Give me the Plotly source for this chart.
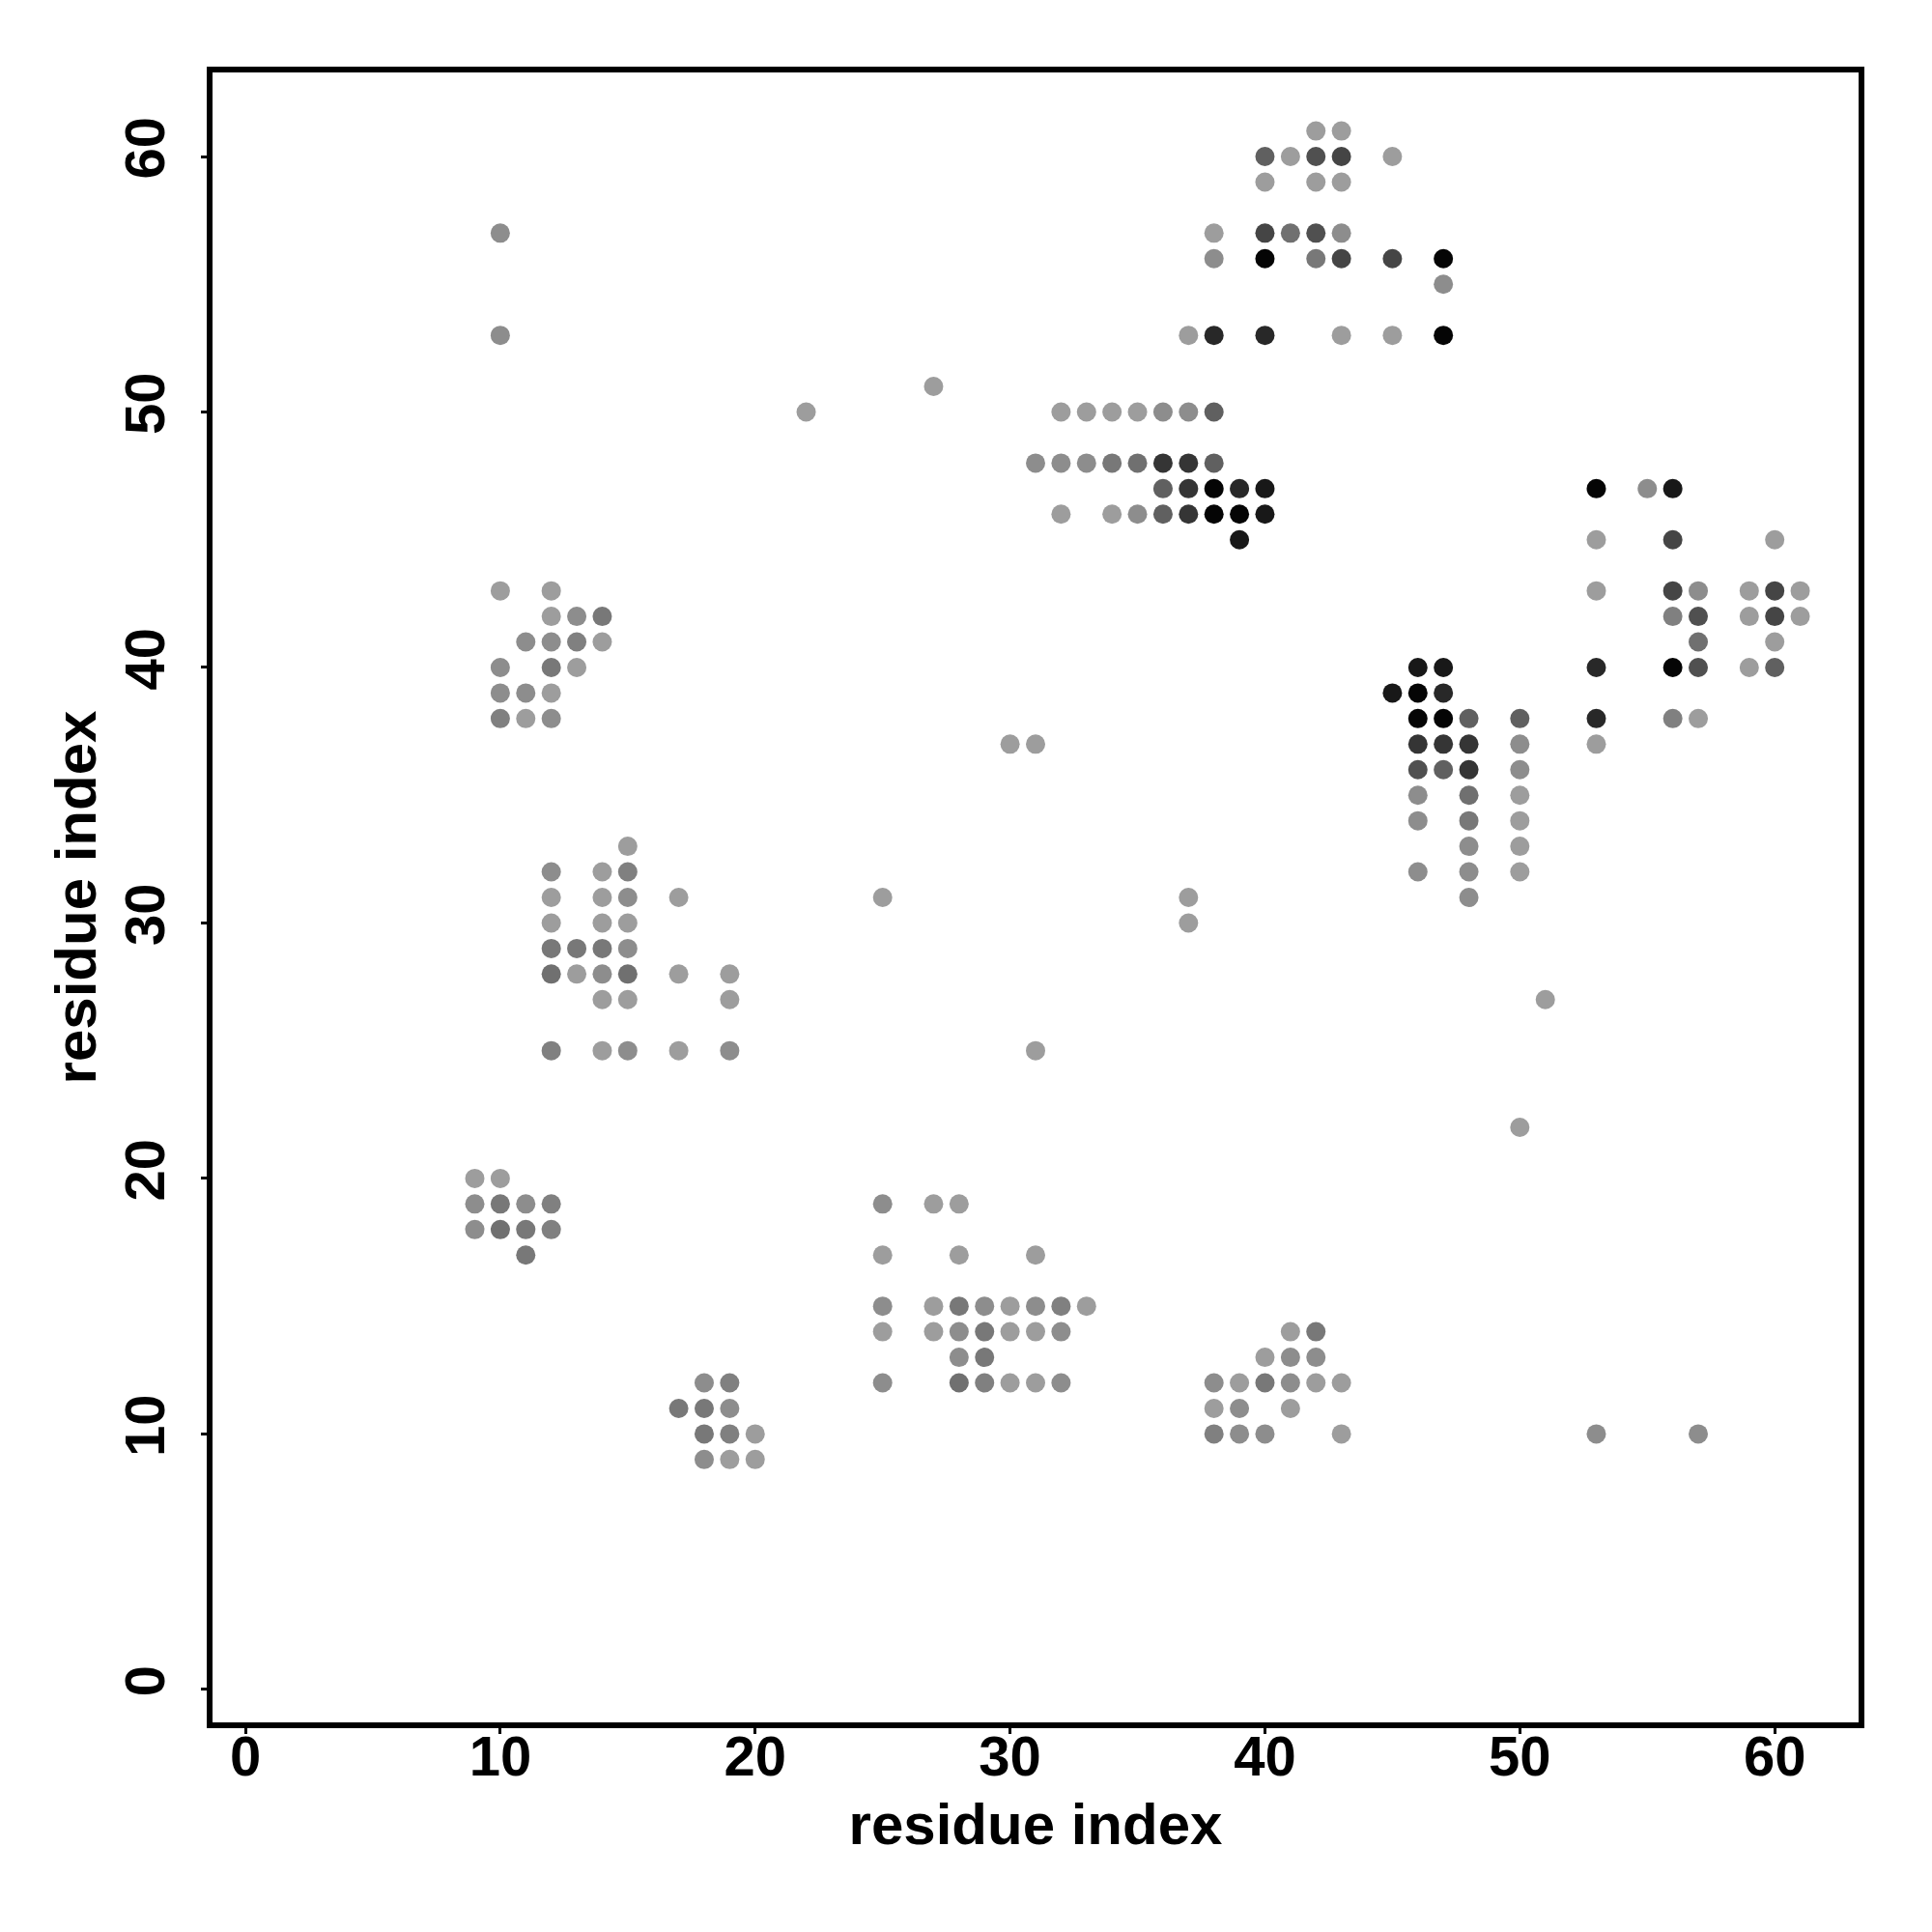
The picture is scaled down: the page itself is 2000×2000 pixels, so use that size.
import plotly.graph_objects as go

# contact map: residue i (x), residue j (y), contact strength (0 = weak/light grey, 1 = strong/black)
res_i = [
    42, 43,
    40, 41, 42, 43, 45,
    40, 42, 43,
    10, 38, 40, 41, 42, 43,
    38, 40, 42, 43, 45, 47,
    47,
    10, 37, 38, 40, 43, 45, 47,
    27,
    22, 32, 33, 34, 35, 36, 37, 38,
    31, 32, 33, 34, 35, 36, 37, 38,
    36, 37, 38, 39, 40, 53, 55, 56,
    32, 34, 35, 36, 37, 38, 39, 40,
    39, 53, 56, 60,
    10, 12, 53, 56, 57, 59, 60, 61,
    12, 13, 14, 56, 57, 59, 60, 61,
    11, 12, 13, 14, 57, 60,
    10, 12, 13, 46, 47, 53, 56, 57, 59, 60,
    10, 11, 12, 45, 46, 47,
    10, 11, 12, 46, 47, 48, 50, 53, 56, 57,
    30, 31, 46, 47, 48, 50, 53,
    46, 47, 48, 50,
    46, 48, 50,
    46, 48, 50,
    15, 48, 50,
    12, 14, 15, 46, 48, 50,
    12, 14, 15, 17, 25, 37, 48,
    12, 14, 15, 37,
    12, 13, 14, 15,
    12, 13, 14, 15, 17, 19,
    14, 15, 19, 51,
    12, 14, 15, 17, 19, 31,
    50,
    9, 10,
    9, 10, 11, 12, 25, 27, 28,
    9, 10, 11, 12,
    11, 25, 28, 31,
    25, 27, 28, 29, 30, 31, 32, 33,
    25, 27, 28, 29, 30, 31, 32, 41, 42,
    28, 29, 40, 41, 42,
    18, 19, 25, 28, 29, 30, 31, 32, 38, 39, 40, 41, 42, 43,
    17, 18, 19, 38, 39, 41,
    18, 19, 20, 38, 39, 40, 43, 53, 57,
    18, 19, 20,
]

res_j = [
    61, 61,
    60, 60, 60, 60, 60,
    59, 59, 59,
    57, 57, 57, 57, 57, 57,
    56, 56, 56, 56, 56, 56,
    55,
    53, 53, 53, 53, 53, 53, 53,
    51,
    50, 50, 50, 50, 50, 50, 50, 50,
    48, 48, 48, 48, 48, 48, 48, 48,
    47, 47, 47, 47, 47, 47, 47, 47,
    46, 46, 46, 46, 46, 46, 46, 46,
    45, 45, 45, 45,
    43, 43, 43, 43, 43, 43, 43, 43,
    42, 42, 42, 42, 42, 42, 42, 42,
    41, 41, 41, 41, 41, 41,
    40, 40, 40, 40, 40, 40, 40, 40, 40, 40,
    39, 39, 39, 39, 39, 39,
    38, 38, 38, 38, 38, 38, 38, 38, 38, 38,
    37, 37, 37, 37, 37, 37, 37,
    36, 36, 36, 36,
    35, 35, 35,
    34, 34, 34,
    33, 33, 33,
    32, 32, 32, 32, 32, 32,
    31, 31, 31, 31, 31, 31, 31,
    30, 30, 30, 30,
    29, 29, 29, 29,
    28, 28, 28, 28, 28, 28,
    27, 27, 27, 27,
    25, 25, 25, 25, 25, 25,
    22,
    20, 20,
    19, 19, 19, 19, 19, 19, 19,
    18, 18, 18, 18,
    17, 17, 17, 17,
    15, 15, 15, 15, 15, 15, 15, 15,
    14, 14, 14, 14, 14, 14, 14, 14, 14,
    13, 13, 13, 13, 13,
    12, 12, 12, 12, 12, 12, 12, 12, 12, 12, 12, 12, 12, 12,
    11, 11, 11, 11, 11, 11,
    10, 10, 10, 10, 10, 10, 10, 10, 10,
    9, 9, 9,
]

strength = [
    0.02, 0.02,
    0.40, 0.02, 0.50, 0.57, 0.02,
    0.02, 0.02, 0.02,
    0.12, 0.02, 0.57, 0.30, 0.50, 0.12,
    0.12, 0.97, 0.25, 0.57, 0.57, 0.97,
    0.12,
    0.12, 0.02, 0.75, 0.75, 0.02, 0.02, 0.97,
    0.02,
    0.02, 0.02, 0.02, 0.02, 0.02, 0.12, 0.12, 0.40,
    0.12, 0.12, 0.12, 0.25, 0.30, 0.67, 0.67, 0.40,
    0.40, 0.67, 0.97, 0.75, 0.85, 0.97, 0.12, 0.85,
    0.02, 0.02, 0.12, 0.40, 0.67, 0.97, 0.97, 0.85,
    0.85, 0.02, 0.57, 0.02,
    0.02, 0.02, 0.02, 0.57, 0.12, 0.02, 0.57, 0.02,
    0.02, 0.12, 0.25, 0.20, 0.50, 0.02, 0.57, 0.02,
    0.12, 0.12, 0.20, 0.02, 0.30, 0.02,
    0.12, 0.25, 0.02, 0.85, 0.85, 0.75, 0.97, 0.50, 0.02, 0.40,
    0.12, 0.12, 0.02, 0.85, 0.97, 0.75,
    0.20, 0.02, 0.12, 0.97, 0.97, 0.40, 0.40, 0.75, 0.20, 0.02,
    0.02, 0.02, 0.67, 0.67, 0.67, 0.12, 0.02,
    0.50, 0.40, 0.67, 0.12,
    0.12, 0.30, 0.02,
    0.12, 0.25, 0.02,
    0.02, 0.12, 0.02,
    0.12, 0.02, 0.20, 0.12, 0.12, 0.02,
    0.02, 0.02, 0.12, 0.02, 0.02, 0.02, 0.12,
    0.02, 0.02, 0.02, 0.02,
    0.25, 0.25, 0.25, 0.12,
    0.30, 0.02, 0.12, 0.30, 0.02, 0.02,
    0.02, 0.02, 0.02, 0.02,
    0.20, 0.02, 0.12, 0.02, 0.12, 0.02,
    0.02,
    0.02, 0.02,
    0.12, 0.25, 0.12, 0.20, 0.12, 0.02, 0.02,
    0.12, 0.30, 0.25, 0.20,
    0.25, 0.02, 0.02, 0.02,
    0.12, 0.02, 0.25, 0.12, 0.02, 0.12, 0.20, 0.02,
    0.02, 0.02, 0.12, 0.25, 0.02, 0.02, 0.12, 0.02, 0.25,
    0.12, 0.25, 0.02, 0.12, 0.12,
    0.12, 0.20, 0.12, 0.30, 0.20, 0.02, 0.02, 0.12, 0.12, 0.02, 0.25, 0.12, 0.02, 0.02,
    0.25, 0.25, 0.12, 0.02, 0.12, 0.02,
    0.25, 0.20, 0.02, 0.20, 0.12, 0.12, 0.02, 0.12, 0.12,
    0.12, 0.02, 0.02,
]

tick_vals = [0, 10, 20, 30, 40, 50, 60]
axis_label = "residue index"

FONT = "Liberation Sans, Arial, Helvetica, sans-serif"

fig = go.Figure(
    go.Scatter(
        x=res_i,
        y=res_j,
        mode="markers",
        marker=dict(
            size=20,
            color=strength,
            cmin=0,
            cmax=1,
            colorscale=[[0, "rgb(160,160,160)"], [1, "rgb(0,0,0)"]],
            showscale=False,
            line=dict(width=0),
        ),
        hoverinfo="x+y",
    )
)

axis_common = dict(
    tickvals=tick_vals,
    ticks="outside",
    ticklen=6,
    tickwidth=3,
    tickcolor="black",
    showline=True,
    linewidth=6,
    linecolor="black",
    mirror=True,
    showgrid=False,
    zeroline=False,
    range=[-1.29, 63.29],
    tickfont=dict(family=FONT, size=58, color="black", weight="bold"),
    title=dict(text=axis_label, font=dict(family=FONT, size=60, color="black", weight="bold")),
)

fig.update_layout(
    width=2000,
    height=2000,
    margin=dict(l=212, r=84, t=67, b=225),
    paper_bgcolor="white",
    plot_bgcolor="white",
    showlegend=False,
    xaxis=dict(axis_common, ticklabelstandoff=-27, title_standoff=20),
    yaxis=dict(axis_common, tickangle=-90, ticklabelstandoff=15, title_standoff=0),
)

fig.write_html("out.html")
